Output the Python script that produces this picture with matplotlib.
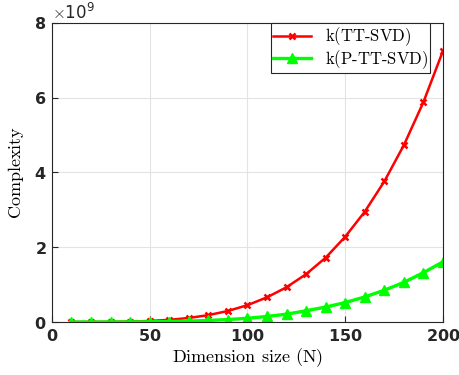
import matplotlib.pyplot as plt
import matplotlib.ticker as mticker

# datos
N = [10, 20, 30, 40, 50, 60, 70, 80, 90, 100,
     110, 120, 130, 140, 150, 160, 170, 180, 190, 200]
k_tt = [0.00005, 0.0007, 0.0036, 0.0115, 0.028, 0.058, 0.108, 0.184, 0.295, 0.45,
        0.66, 0.93, 1.28, 1.72, 2.28, 2.95, 3.76, 4.73, 5.88, 7.25]
k_ptt = [0.00001, 0.00016, 0.0008, 0.0026, 0.0063, 0.013, 0.024, 0.041, 0.066, 0.10,
         0.148, 0.21, 0.30, 0.40, 0.52, 0.67, 0.85, 1.06, 1.32, 1.61]
k_tt = [v * 1e9 for v in k_tt]
k_ptt = [v * 1e9 for v in k_ptt]

plt.rcParams["mathtext.fontset"] = "cm"
plt.rcParams["axes.formatter.use_mathtext"] = True


def tex(s):
    # texto tipo LaTeX con fuente Computer Modern
    return r"$\text{" + s + "}$"


fig = plt.figure(figsize=(4.59, 3.75), dpi=100)
ax = fig.add_axes([0.113, 0.1413, 0.852, 0.7974])

ax.plot(N, k_tt, color="red", lw=1.8, marker="x", ms=4.5, mew=1.8, label=tex("k(TT-SVD)"))
ax.plot(N, k_ptt, color="#00ff00", lw=2.4, marker="^", ms=6.5, label=tex("k(P-TT-SVD)"))

ax.set_xlim(0, 200)
ax.set_ylim(0, 8e9)
ax.set_xticks([0, 50, 100, 150, 200])
ax.set_yticks([0, 2e9, 4e9, 6e9, 8e9])
fmt = mticker.ScalarFormatter(useMathText=True)
fmt.set_powerlimits((0, 0))
ax.yaxis.set_major_formatter(fmt)

ax.grid(True, color="#e3e3e3", lw=0.8)
ax.set_axisbelow(True)
for s in ax.spines.values():
    s.set_color("#262626")
    s.set_linewidth(0.8)
ax.tick_params(direction="in", length=4, color="#262626", labelsize=11.5, pad=4)
for lbl in ax.get_xticklabels() + ax.get_yticklabels():
    lbl.set_fontweight("bold")
    lbl.set_color("#262626")
ax.yaxis.get_offset_text().set_fontsize(12)
ax.yaxis.get_offset_text().set_color("#262626")

ax.set_xlabel(tex("Dimension size (N)"), fontsize=13, labelpad=2)
ax.set_ylabel(tex("Complexity"), fontsize=13, labelpad=6)

leg = ax.legend(loc="upper right", bbox_to_anchor=(0.968, 1.0), prop={"size": 12},
                fancybox=False, edgecolor="#262626", framealpha=1,
                borderpad=0.15, labelspacing=0.0, handlelength=2.3, borderaxespad=0)
leg.get_frame().set_linewidth(0.8)

fig.savefig("out.png", dpi=100)
